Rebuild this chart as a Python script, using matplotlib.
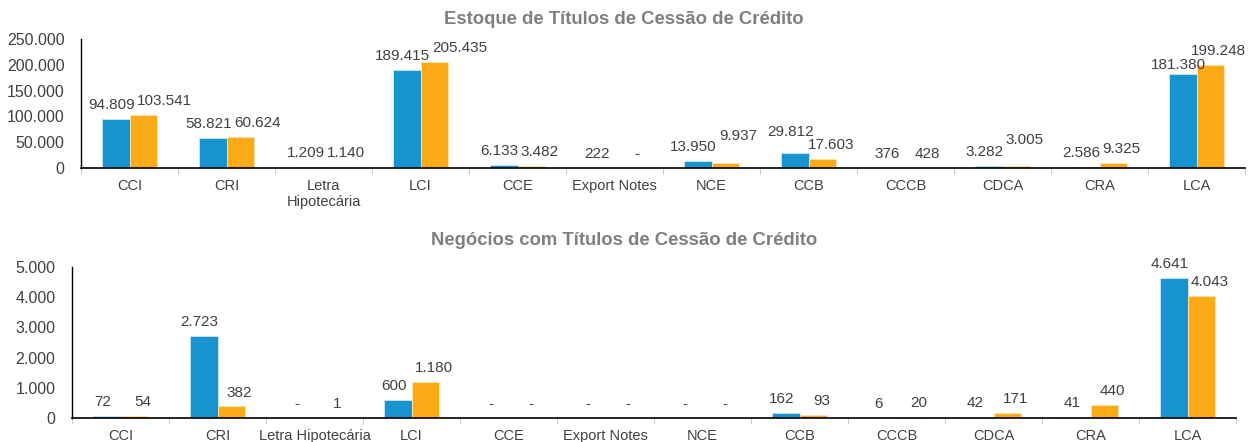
import matplotlib.pyplot as plt
import numpy as np

plt.rcParams['font.family'] = ['Liberation Sans', 'DejaVu Sans']

categorias_estoque = ['CCI', 'CRI', 'Letra\nHipotecária', 'LCI', 'CCE', 'Export Notes',
                      'NCE', 'CCB', 'CCCB', 'CDCA', 'CRA', 'LCA']
estoque_a = [94809, 58821, 1209, 189415, 6133, 222, 13950, 29812, 376, 3282, 2586, 181380]
estoque_b = [103541, 60624, 1140, 205435, 3482, 0, 9937, 17603, 428, 3005, 9325, 199248]

categorias_negocios = ['CCI', 'CRI', 'Letra Hipotecária', 'LCI', 'CCE', 'Export Notes',
                       'NCE', 'CCB', 'CCCB', 'CDCA', 'CRA', 'LCA']
negocios_a = [72, 2723, 0, 600, 0, 0, 0, 162, 6, 42, 41, 4641]
negocios_b = [54, 382, 1, 1180, 0, 0, 0, 93, 20, 171, 440, 4043]

AZUL = '#1793d0'
LARANJA = '#fbab18'
TEXTO = '#404040'
TITULO = '#7f7f7f'
LARGURA = 0.285

# rótulos que o Excel deslocou na vertical para não encostarem (série, pontos)
ajuste_estoque = {6: ('b', 9), 7: ('a', 5), 9: ('b', 9), 11: ('a', -3)}
ajuste_negocios = {}


def fmt(v):
    if v == 0:
        return '-'
    return f'{v:,}'.replace(',', '.')


def desenhar(ax, categorias, serie_a, serie_b, titulo, ymax, passo, ytitulo, ajuste):
    x = np.arange(len(categorias))
    ax.bar(x - LARGURA / 2, serie_a, LARGURA, color=AZUL, edgecolor='#cde6f4', linewidth=0.6)
    ax.bar(x + LARGURA / 2, serie_b, LARGURA, color=LARANJA, edgecolor='#fde3b0', linewidth=0.6)

    rotulos = []
    for i in x:
        serie, extra = ajuste.get(i, ('', 0))
        ra = ax.annotate(fmt(serie_a[i]), (i - LARGURA / 2, serie_a[i]),
                         xytext=(-3, 5 + (extra if serie == 'a' else 0)),
                         textcoords='offset points', ha='center', va='bottom',
                         fontsize=11, color=TEXTO)
        rb = ax.annotate(fmt(serie_b[i]), (i + LARGURA / 2, serie_b[i]),
                         xytext=(6, 5 + (extra if serie == 'b' else 0)),
                         textcoords='offset points', ha='center', va='bottom',
                         fontsize=11, color=TEXTO)
        rotulos.append((ra, rb))

    ax.set_xlim(-0.5, len(categorias) - 0.5)
    ax.set_ylim(0, ymax)
    yt = np.arange(0, ymax + 1, passo)
    ax.set_yticks(yt)
    ax.set_yticklabels([fmt(v) if v else '0' for v in yt])
    ax.set_xticks(x)
    ax.set_xticklabels(categorias)
    ax.set_xticks(np.arange(-0.5, len(categorias), 1), minor=True)
    ax.tick_params(axis='x', which='major', length=0, pad=8, labelsize=10.5, labelcolor=TEXTO)
    ax.tick_params(axis='x', which='minor', length=4, color='#bfbfbf')
    ax.tick_params(axis='y', length=0, pad=12, labelsize=11.5, labelcolor=TEXTO)
    for lado in ('top', 'right'):
        ax.spines[lado].set_visible(False)
    ax.spines['left'].set_color('black')
    ax.spines['bottom'].set_color('black')
    ax.spines['left'].set_linewidth(1)
    ax.spines['bottom'].set_linewidth(1.2)
    ax.figure.text(0.5, ytitulo, titulo, ha='center', va='center',
                   fontsize=13.3, fontweight='bold', color=TITULO)
    return rotulos


def afastar(fig, rotulos):
    # empurra o rótulo laranja para a direita quando encosta no azul
    fig.canvas.draw()
    r = fig.canvas.get_renderer()
    for ra, rb in rotulos:
        ba = ra.get_window_extent(r)
        bb = rb.get_window_extent(r)
        if bb.x0 < ba.x1 + 2 and bb.y0 < ba.y1 - 3 and bb.y1 > ba.y0 + 3:
            dx, dy = rb.xyann
            rb.xyann = (dx + (ba.x1 + 2 - bb.x0) * 72 / fig.dpi, dy)


fig = plt.figure(figsize=(12.48, 4.42), dpi=100)
ax1 = fig.add_axes([0.065, 0.62, 0.9326, 0.292])
ax2 = fig.add_axes([0.0577, 0.0543, 0.9327, 0.3417])

r1 = desenhar(ax1, categorias_estoque, estoque_a, estoque_b,
              'Estoque de Títulos de Cessão de Crédito', 250000, 50000, 1 - 19 / 442, ajuste_estoque)
r2 = desenhar(ax2, categorias_negocios, negocios_a, negocios_b,
              'Negócios com Títulos de Cessão de Crédito', 5000, 1000, 1 - 241 / 442, ajuste_negocios)
afastar(fig, r1 + r2)

fig.savefig('out.png', dpi=100)
